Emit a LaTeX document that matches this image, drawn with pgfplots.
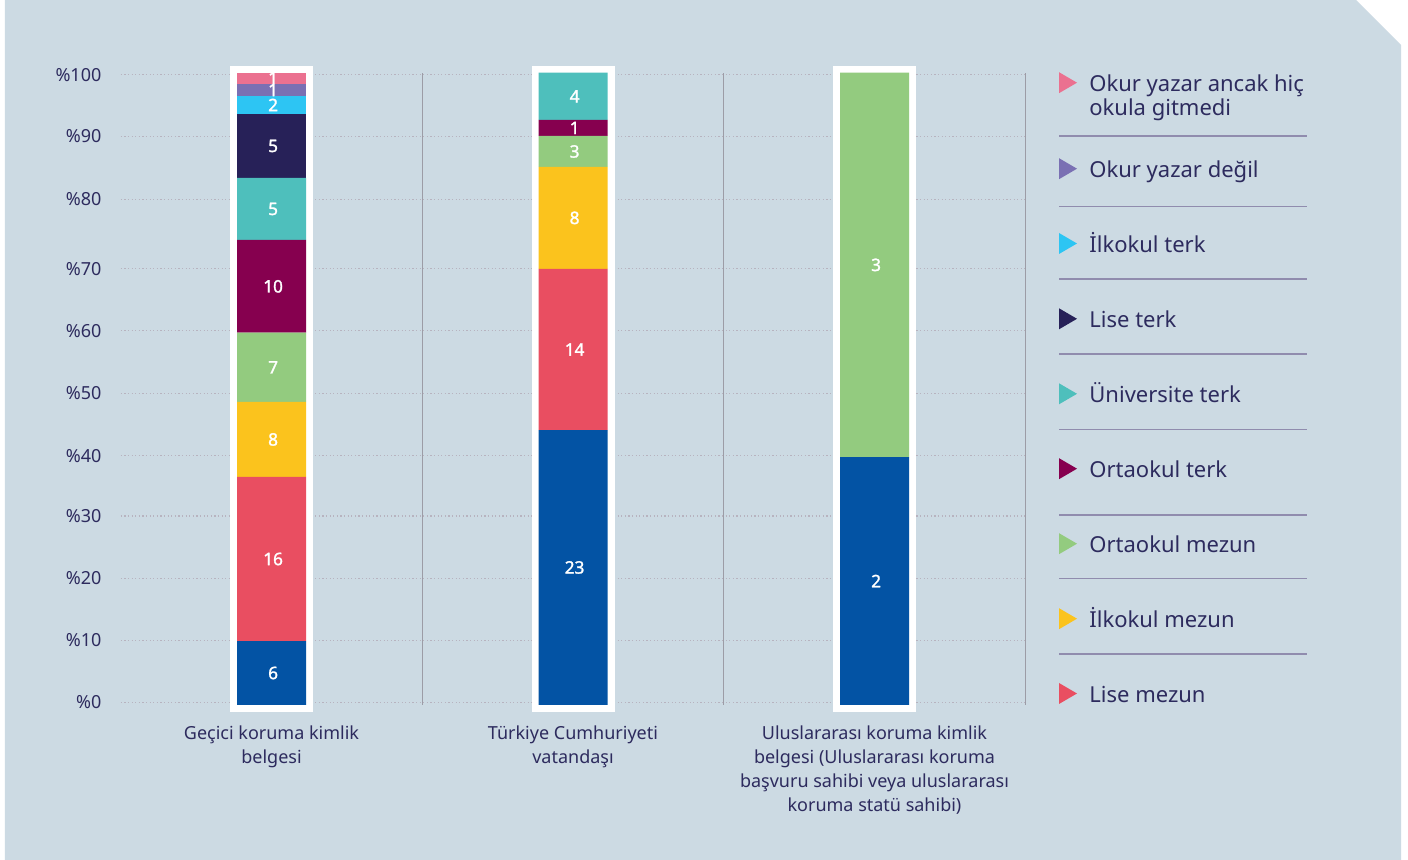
\documentclass[border=0pt]{standalone}
\usepackage{fontspec}
\setmainfont{Noto Sans}
\newfontfamily\labfont[FakeBold=1.6]{Noto Sans}
\usepackage{pgfplots}
\usepackage{pgfplotstable}
\pgfplotsset{compat=1.18}

\definecolor{panel}{RGB}{204,218,227}
\definecolor{txt}{RGB}{45,43,94}
\definecolor{gridc}{RGB}{183,179,191}
\definecolor{sepc}{RGB}{156,156,166}
\definecolor{legsep}{RGB}{144,140,174}
\definecolor{cblue}{RGB}{3,83,164}
\definecolor{cred}{RGB}{233,78,97}
\definecolor{cyellow}{RGB}{251,195,29}
\definecolor{cgreen}{RGB}{147,203,127}
\definecolor{cmaroon}{RGB}{134,0,79}
\definecolor{cteal}{RGB}{78,191,188}
\definecolor{cnavy}{RGB}{39,33,88}
\definecolor{ccyan}{RGB}{45,197,243}
\definecolor{cpurple}{RGB}{122,112,179}
\definecolor{cpink}{RGB}{235,113,144}

% shares (percent of bar height), bottom to top
\pgfplotstableread{
x blue red yellow green maroon teal navy cyan purple pink
0 10.12 25.94 11.86 10.96 14.66 9.81 10.12 2.84 1.90 1.79
1 43.49 25.47 16.13 4.90 2.53 7.48 0 0 0 0
2 39.2 0 0 60.8 0 0 0 0 0 0
}\shares

% segment labels (counts) at segment midpoints
\pgfplotstableread{
x y lab
0 5.06 6
0 23.09 16
0 41.99 8
0 53.40 7
0 66.21 10
0 78.45 5
0 88.41 5
0 94.89 2
0 97.26 1
0 99.15 1
1 21.75 23
1 56.23 14
1 77.03 8
1 87.54 3
1 91.26 1
1 96.26 4
2 19.6 2
2 69.6 3
}\labels

\begin{document}
\begin{tikzpicture}
% pixel coordinate frame: (px,py) with origin at top-left of the image
\begin{scope}[shift={(-60.375pt,352.5pt)}, x=0.5pt, y=-0.5pt]
  \fill[white] (0,0) rectangle (1408,860);
  \fill[panel] (5,0) -- (1356,0) -- (1401,45) -- (1401,860) -- (5,860) -- cycle;
\end{scope}

\begin{axis}[
  at={(0pt,0pt)}, anchor=south west,
  scale only axis, width=452.25pt, height=316.15pt,
  xmin=-0.5, xmax=2.5, ymin=0, ymax=100,
  clip=false,
  axis line style={draw=none},
  major tick length=0pt,
  xtick={0,1,2},
  xticklabels={{Geçici koruma kimlik\\belgesi},{Türkiye Cumhuriyeti\\vatandaşı},{Uluslararası koruma kimlik\\belgesi (Uluslararası koruma\\başvuru sahibi veya uluslararası\\koruma statü sahibi)}},
  xticklabel style={align=center, anchor=north, inner sep=0pt, yshift=-10pt, font=\fontsize{9}{12.1}\selectfont, text=txt},
  ytick={0.4,10.2,20,29.9,39.4,49.3,59.2,69,80,89.9,99.7},
  yticklabels={\%0,\%10,\%20,\%30,\%40,\%50,\%60,\%70,\%80,\%90,\%100},
  yticklabel style={anchor=east, inner sep=0pt, xshift=-9.5pt, font=\fontsize{9}{11}\selectfont, text=txt},
  ymajorgrids,
  major grid style={draw=gridc, line width=0.6pt, dash pattern=on 0.6pt off 1.2pt},
  extra x ticks={0.5,1.5,2.5},
  extra x tick labels={},
  extra x tick style={xmajorgrids=true, major grid style={solid, draw=sepc, line width=0.6pt}},
]
\addplot[ybar, bar width=34.5pt, bar shift=0pt, fill=white, draw=white, line width=7pt]
  coordinates {(0,100) (1,100) (2,100)};
\end{axis}

\begin{axis}[
  at={(0pt,0pt)}, anchor=south west,
  scale only axis, width=452.25pt, height=316.15pt,
  xmin=-0.5, xmax=2.5, ymin=0, ymax=100,
  hide axis, ybar stacked, bar width=34.5pt,
]
\addplot[fill=cblue, draw=none] table[x=x,y=blue]{\shares};
\addplot[fill=cred, draw=none] table[x=x,y=red]{\shares};
\addplot[fill=cyellow, draw=none] table[x=x,y=yellow]{\shares};
\addplot[fill=cgreen, draw=none] table[x=x,y=green]{\shares};
\addplot[fill=cmaroon, draw=none] table[x=x,y=maroon]{\shares};
\addplot[fill=cteal, draw=none] table[x=x,y=teal]{\shares};
\addplot[fill=cnavy, draw=none] table[x=x,y=navy]{\shares};
\addplot[fill=ccyan, draw=none] table[x=x,y=cyan]{\shares};
\addplot[fill=cpurple, draw=none] table[x=x,y=purple]{\shares};
\addplot[fill=cpink, draw=none] table[x=x,y=pink]{\shares};
\end{axis}

\begin{axis}[
  at={(0pt,0pt)}, anchor=south west,
  scale only axis, width=452.25pt, height=316.15pt,
  xmin=-0.5, xmax=2.5, ymin=0, ymax=100,
  hide axis, clip=false,
]
\addplot[only marks, mark=none, draw=none,
  point meta=explicit symbolic,
  nodes near coords, nodes near coords align=center,
  every node near coord/.append style={anchor=center, inner sep=0pt, xshift=0.8pt, text=white, font=\labfont\fontsize{8.6}{10}\selectfont}]
  table[x=x, y=y, meta=lab]{\labels};
\end{axis}

% legend
\begin{scope}[shift={(-60.375pt,352.5pt)}, x=0.5pt, y=-0.5pt]
  \foreach \yy in {136,206.5,279,354,429.5,515,578.7,654}
    \draw[legsep, line width=0.6pt] (1059,\yy) -- (1307,\yy);
  \foreach \yc/\col/\lab in {
      168.7/cpurple/{Okur yazar değil},
      243.5/ccyan/{İlkokul terk},
      318.8/cnavy/{Lise terk},
      393.8/cteal/{Üniversite terk},
      468.7/cmaroon/{Ortaokul terk},
      543.7/cgreen/{Ortaokul mezun},
      618.7/cyellow/{İlkokul mezun},
      693.5/cred/{Lise mezun}} {
    \fill[\col] (1059,\yc-10.5) -- (1077,\yc) -- (1059,\yc+10.5) -- cycle;
    \node[anchor=base west, inner sep=0pt, text=txt, font=\fontsize{11}{12}\selectfont] at (1089,\yc+9) {\lab};
  }
  \fill[cpink] (1059,72.2) -- (1077,82.7) -- (1059,93.2) -- cycle;
  \node[anchor=base west, inner sep=0pt, text=txt, font=\fontsize{11}{12}\selectfont] at (1089,92) {Okur yazar ancak hiç};
  \node[anchor=base west, inner sep=0pt, text=txt, font=\fontsize{11}{12}\selectfont] at (1089,116) {okula gitmedi};
\end{scope}
\end{tikzpicture}
\end{document}
